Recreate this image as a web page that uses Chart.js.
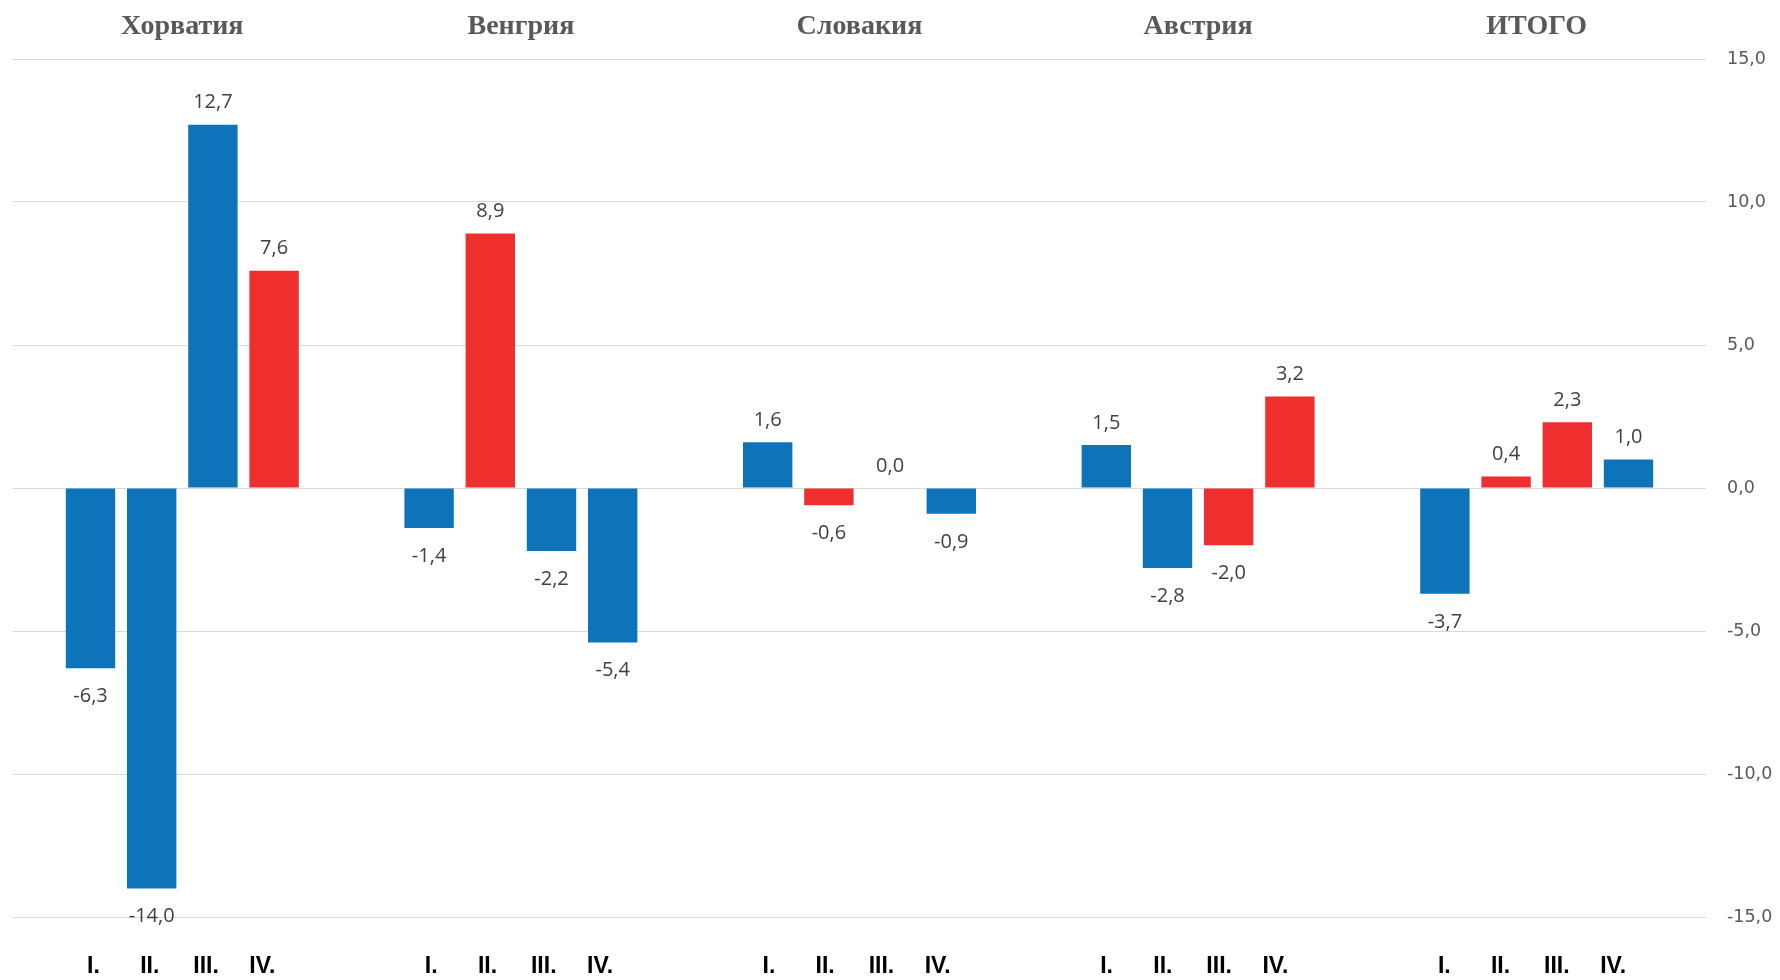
<!DOCTYPE html>
<html>
<head>
<meta charset="utf-8">
<script src="https://cdn.jsdelivr.net/npm/chart.js@4/dist/chart.umd.min.js"></script>
<style>
  html, body { margin: 0; padding: 0; background: #ffffff; }
  #wrap { width: 1780px; height: 980px; position: relative; }
</style>
</head>
<body>
<div id="wrap"><canvas id="c" width="1780" height="980"></canvas></div>
<script>
// ---- data ----
const countries = ['Хорватия', 'Венгрия', 'Словакия', 'Австрия', 'ИТОГО'];
const quarters = ['I.', 'II.', 'III.', 'IV.'];
const q1 = [-6.3, -1.4, 1.6, 1.5, -3.7];
const q2 = [-14.0, 8.9, -0.6, -2.8, 0.4];
const q3 = [12.7, -2.2, 0.0, -2.0, 2.3];
const q4 = [7.6, -5.4, -0.9, 3.2, 1.0];
// 1 = highlighted (red) bar
const q1Hi = [0, 0, 0, 0, 0];
const q2Hi = [0, 1, 1, 0, 1];
const q3Hi = [0, 0, 0, 1, 1];
const q4Hi = [1, 0, 0, 1, 0];
const yTicks = [-15, -10, -5, 0, 5, 10, 15];

// ---- styles ----
const BLUE = '#0E74BA';
const RED = '#EE2F2D';
const colorsFor = hi => hi.map(h => h ? RED : BLUE);
const fmt = v => v.toFixed(1).replace('.', ',');

const seriesValues = [q1, q2, q3, q4];
const seriesHi = [q1Hi, q2Hi, q3Hi, q4Hi];

// quarter-label axis: 6 slots per country (blank, I., II., III., IV., blank)
const SLOTS = 6;
const quarterSlots = [];
countries.forEach((c, gi) => quarters.forEach((q, qi) => quarterSlots.push(gi * SLOTS + qi + 1)));

const valueLabelPlugin = {
  id: 'valueLabels',
  afterDatasetsDraw(chart) {
    const ctx = chart.ctx;
    ctx.save();
    ctx.font = '20px "Open Sans", "Liberation Sans", sans-serif';
    ctx.fillStyle = '#404040';
    ctx.textAlign = 'center';
    ctx.textBaseline = 'alphabetic';
    chart.data.datasets.forEach((ds, di) => {
      const meta = chart.getDatasetMeta(di);
      meta.data.forEach((el, i) => {
        const v = ds.data[i];
        if (v >= 0) {
          ctx.fillText(fmt(v), el.x, el.y - 16.5);
        } else {
          ctx.fillText(fmt(v), el.x, el.y + 34);
        }
      });
    });
    ctx.restore();
  }
};

new Chart(document.getElementById('c'), {
  type: 'bar',
  data: {
    labels: countries,
    datasets: seriesValues.map((vals, k) => ({
      label: quarters[k],
      data: vals,
      backgroundColor: colorsFor(seriesHi[k]),
      borderWidth: 0,
      categoryPercentage: 0.723,
      barPercentage: 0.807
    }))
  },
  options: {
    responsive: false,
    animation: false,
    devicePixelRatio: 1,
    layout: { padding: { left: 13, right: 0, top: 0, bottom: 0 } },
    plugins: {
      legend: { display: false },
      tooltip: { enabled: false }
    },
    scales: {
      x: {
        position: 'top',
        afterFit: axis => { axis.height = 59; },
        grid: { display: false, drawTicks: false },
        border: { display: false },
        ticks: {
          maxRotation: 0,
          autoSkip: false,
          padding: 15,
          color: '#595959',
          font: { family: '"Liberation Serif", "Times New Roman", serif', size: 28, weight: 'bold' }
        }
      },
      xq: {
        type: 'linear',
        position: 'bottom',
        offset: false,
        min: -0.43,
        max: 29.65,
        afterFit: axis => { axis.height = 63; },
        afterBuildTicks: axis => { axis.ticks = quarterSlots.map(v => ({ value: v })); },
        grid: { display: false, drawTicks: false, offset: false },
        border: { display: false },
        ticks: {
          maxRotation: 0,
          autoSkip: false,
          padding: 36,
          color: '#000000',
          font: { family: '"Liberation Sans", Arial, sans-serif', size: 23, weight: 'bold' },
          callback: v => quarters[(v % SLOTS) - 1]
        }
      },
      y: {
        position: 'right',
        min: -15,
        max: 15,
        afterFit: axis => { axis.width = 74; },
        afterBuildTicks: axis => { axis.ticks = yTicks.map(v => ({ value: v })); },
        grid: { color: '#D9D9D9', lineWidth: 1, drawTicks: false },
        border: { display: false },
        ticks: {
          padding: 21,
          color: '#595959',
          font: { family: '"DejaVu Sans", Verdana, sans-serif', size: 17.5 },
          callback: v => fmt(v)
        }
      }
    }
  },
  plugins: [valueLabelPlugin]
});
</script>
</body>
</html>
